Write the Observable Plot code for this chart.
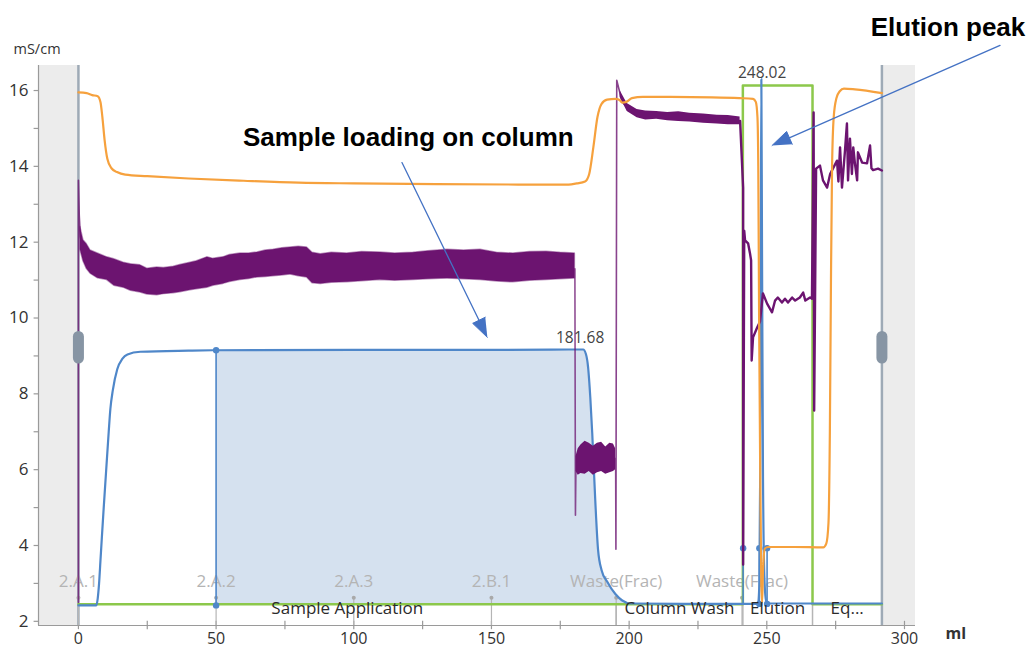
<!DOCTYPE html>
<html>
<head>
<meta charset="utf-8">
<script src="https://cdn.jsdelivr.net/npm/d3@7"></script>
<script src="https://cdn.jsdelivr.net/npm/@observablehq/plot@0.6"></script>
<style>
  html, body { margin: 0; padding: 0; background: #fff; }
  #chart svg { display: block; }
</style>
</head>
<body>
<div id="chart"></div>
<script>
// ---------- data ----------
const xDomain = [-14.5, 304];          // ml
const yDomain = [1.89, 16.66];         // mS/cm
const xTicks = [0, 50, 100, 150, 200, 250, 300];
const xMinorTicks = [25, 75, 125, 175, 225, 275];
const yTicks = [2, 4, 6, 8, 10, 12, 14, 16];
const yMinorTicks = [3, 5, 7, 9, 11, 13, 15];

const runEdges = [0, 291.8];           // grey run-limit lines
const shadedPanels = [[-14.5, 0], [291.8, 304]];

// orange curve [ml, value]
const orange = [[0,15.95],[3,15.93],[5,15.88],[7,15.85],[8,15.7],[8.7,15.3],[9.5,14.7],[10.5,14.2],[12,13.95],[14,13.85],[17,13.78],[25,13.74],[40,13.68],[60,13.62],[80,13.57],[100,13.55],[130,13.53],[160,13.52],[178,13.52],[181,13.55],[184,13.6],[185.5,13.8],[187,14.5],[188.5,15.3],[190,15.65],[192,15.76],[195,15.78],[196.5,15.75],[197.5,15.68],[199,15.7],[201,15.8],[205,15.83],[215,15.83],[230,15.82],[240,15.8],[245,15.78],[246,15.7],[246.6,15.3],[246.9,14],[247.2,10],[247.6,6],[248,3],[248.3,2.5],[248.6,3.3],[249.3,3.92],[250.5,3.96],[260,3.96],[270.5,3.95],[271.6,4.05],[272.4,4.6],[272.9,7],[273.3,11],[273.7,14],[274.3,15.3],[275.3,15.8],[276.5,15.98],[278,16.05],[282,16.03],[291.8,15.93]];

// blue curve [ml, value]
const blue = [[0,2.42],[6.5,2.42],[7,2.6],[7.5,3.0],[8,3.6],[8.5,4.2],[9.1,4.9],[10,5.9],[11,7.0],[11.6,7.6],[12.5,8.1],[14.1,8.65],[16,8.93],[17.8,9.04],[22.5,9.11],[40,9.14],[50,9.15],[100,9.16],[150,9.16],[183.3,9.17],[184.3,9.05],[185.1,8.7],[185.9,7.9],[186.6,6.96],[187.7,5.19],[188.7,3.9],[190,3.35],[192,3.05],[195,2.72],[197.5,2.55],[200.4,2.47],[220,2.46],[246.8,2.46],[247.3,3.0],[247.6,6],[247.85,12],[248.02,16.3],[248.25,12],[248.6,6],[249.1,3.2],[249.6,2.6],[250.1,2.47],[291.8,2.47]];
const integrationRange = [50, 200.4];
const integrationBase = 2.44;
const blueDrops = [[50,2.42,9.15],[241.4,2.46,3.93],[247.3,2.46,3.93],[250.1,2.46,3.93]];
const blueMarkers = [[50,9.15],[50,2.42],[241.4,3.93],[247.3,3.93],[250.1,3.93],[247.3,2.46],[250.1,2.46]];

// green block [ml, value]
const green = [[0,2.45],[241.3,2.45],[241.3,16.13],[266.6,16.13],[266.6,2.45],[291.8,2.45]];

// purple trace pieces [ml, value] and noisy envelopes [ml, low, high]
const purpleStart = [[0,2.5],[0,13.63],[0.3,12.7],[0.7,12.15],[1.5,11.8]];
const purpleBand1 = [[0.7,11.8,12.4],[1.8,11.5,12.05],[3,11.3,11.95],[4.4,11.17,11.78],[7,11.05,11.7],[10.4,11.0,11.6],[13,10.85,11.55],[16.4,10.8,11.46],[19,10.72,11.42],[22.5,10.67,11.39],[25,10.62,11.3],[28.6,10.6,11.33],[31,10.63,11.32],[34.6,10.65,11.35],[37,10.68,11.4],[40.7,10.73,11.46],[43,10.76,11.5],[46.8,10.8,11.6],[49,10.85,11.56],[52.6,10.9,11.6],[55,10.95,11.66],[58.8,11.0,11.7],[62,11.03,11.7],[65,11.07,11.73],[68,11.08,11.78],[70.8,11.1,11.8],[74,11.12,11.84],[77,11.15,11.86],[80,11.1,11.88],[83,11.07,11.86],[85,10.92,11.72],[88,10.9,11.68],[92,10.93,11.72],[97.6,10.94,11.7],[103,10.97,11.74],[109.6,11.0,11.73],[115,10.98,11.7],[121.6,11.0,11.72],[127,11.02,11.76],[134,11.04,11.8],[140,11.02,11.78],[146,11.0,11.8],[152,10.96,11.72],[158,10.94,11.7],[164,10.98,11.74],[170,11.0,11.75],[175,11.02,11.72],[180.3,11.04,11.7]];
const purpleDrop = [[180.3,11.3],[180.5,4.8],[180.7,6.2]];
const purpleBand2 = [[180.7,5.95,6.35],[181.5,5.85,6.55],[182.5,5.9,6.65],[184,5.88,6.75],[185.5,5.95,6.7],[187,5.85,6.62],[188.5,5.92,6.7],[190,5.95,6.72],[191.5,5.88,6.6],[193,5.92,6.7],[194.3,5.95,6.68],[195.1,6.0,6.55]];
const purpleWash = [[195.1,6.3],[195.2,3.9],[195.5,16.27],[196.7,15.92],[197.5,15.7],[199.3,15.55],[202.9,15.39],[210.2,15.34],[222,15.28],[230,15.24],[240.3,15.2]];
const purpleWashBand = [[196.7,15.82,16.0],[199.3,15.45,15.66],[202.9,15.28,15.5],[206,15.22,15.46],[210,15.24,15.45],[214,15.2,15.42],[218,15.18,15.44],[222,15.17,15.4],[227,15.14,15.38],[232,15.12,15.35],[236,15.1,15.34],[240.3,15.1,15.3]];
const purpleElution = [[240.3,15.2],[241.4,13.44],[241.4,3.5],[241.8,12.3],[242.1,12.05],[243.2,11.97],[243.9,11.7],[244.3,11.52],[244.5,8.88],[245,9.49],[246.5,9.75],[247.5,9.9],[248.6,10.65],[250.1,10.38],[251.9,10.15],[253,10.46],[254,10.54],[255.5,10.41],[256.6,10.51],[257.7,10.41],[259.2,10.54],[260.3,10.46],[262,10.54],[263.2,10.67],[264,10.46],[265.7,10.54],[266.4,10.51],[267.0,15.42],[267.2,7.56],[267.9,13.94],[269.3,14.02],[270.4,13.63],[271.9,13.44],[273,13.8],[274,13.94],[275.5,14.15],[276,13.6],[276.6,14.5],[277.3,13.44],[278.4,14.42],[279.1,15.13],[279.5,13.63],[280.2,14.73],[280.9,13.8],[281.4,14.5],[282,14.08],[282.8,13.63],[283.1,14.37],[284.6,14.1],[286.4,14.08],[287.5,14.55],[288,13.95],[288.6,13.9],[290.4,13.94],[291.8,13.89]];

// fractions and phases
const fractionNames = ["2.A.1", "2.A.2", "2.A.3", "2.B.1", "Waste(Frac)", "Waste(Frac)"];
const fractionStarts = [0, 50, 100, 150, 195.3, 241];
const phaseNames = ["Sample Application", "Column Wash", "Elution", "Eq..."];
const phaseBounds = [0, 195.3, 241.3, 266.6, 291.8];

// peak labels [ml, value, text]
const peakLabels = [[182.2, 9.46, "181.68"], [248.3, 16.47, "248.02"]];

// annotations: text and arrows [fromMl, fromValue, toMl, toValue]
const annotationTexts = [[119.8, 14.76, "Sample loading on column"], [315.8, 17.66, "Elution peak"]];
const annotationArrows = [[117.5, 14.1, 148.5, 9.49], [334.7, 17.19, 251.9, 14.55]];

// ---------- layout ----------
const W = 1032, H = 651;
const M = {left: 38, right: 117, top: 65, bottom: 26};
const FONT = "'Open Sans', 'Noto Sans', sans-serif";

const xs = Plot.scale({x: {domain: xDomain, range: [M.left, W - M.right]}});
const ys = Plot.scale({y: {domain: yDomain, range: [H - M.bottom, M.top]}});

// arrowheads computed through the scales
const headLen = 19, headHalf = 7;
const arrowLines = [], arrowHeads = [];
annotationArrows.forEach(([x1, y1, x2, y2], i) => {
  const px1 = xs.apply(x1), py1 = ys.apply(y1), px2 = xs.apply(x2), py2 = ys.apply(y2);
  const dx = px2 - px1, dy = py2 - py1, len = Math.hypot(dx, dy);
  const ux = dx / len, uy = dy / len;
  const bx = px2 - ux * headLen, by = py2 - uy * headLen;
  arrowLines.push({id: i, x: x1, y: y1}, {id: i, x: xs.invert(bx + ux * 2), y: ys.invert(by + uy * 2)});
  arrowHeads.push(
    {id: i, x: x2, y: y2},
    {id: i, x: xs.invert(bx - uy * headHalf), y: ys.invert(by + ux * headHalf)},
    {id: i, x: xs.invert(bx + uy * headHalf), y: ys.invert(by - ux * headHalf)}
  );
});

const shadedArea = blue.filter(d => d[0] >= integrationRange[0] && d[0] <= integrationRange[1]);
const fractions = fractionNames.map((name, i) => ({name, x: fractionStarts[i]}));
const phases = phaseNames.map((name, i) => ({name, x: (phaseBounds[i] + phaseBounds[i + 1]) / 2}));
const phaseLines = phaseBounds.slice(1, -1);

const ORANGE = "#f6a13d", BLUE = "#4f87c9", GREEN = "#8cc84b", PURPLE = "#6c1470", GREYLINE = "#9eaab6";

const chart = Plot.plot({
  width: W, height: H,
  marginLeft: M.left, marginRight: M.right, marginTop: M.top, marginBottom: M.bottom,
  x: {domain: xDomain, label: null},
  y: {domain: yDomain, label: null},
  style: {fontFamily: FONT, background: "#fff", overflow: "visible"},
  marks: [
    // shaded side panels
    Plot.rect(shadedPanels, {x1: d => d[0], x2: d => d[1], y1: yDomain[0], y2: yDomain[1], fill: "#ececec"}),
    // axes lines
    Plot.ruleY([yDomain[0]], {x1: xDomain[0], x2: xDomain[1], stroke: "#9a9a9a", strokeWidth: 1.2}),
    Plot.ruleX([xDomain[0]], {y1: yDomain[0], y2: yDomain[1], stroke: "#9a9a9a", strokeWidth: 1.2}),
    Plot.ruleX([...xTicks, ...xMinorTicks], {y1: yDomain[0] - 0.11, y2: yDomain[0] + 0.11, stroke: "#9a9a9a", strokeWidth: 1.2}),
    Plot.ruleY([...yTicks, ...yMinorTicks], {x1: xDomain[0] - 1.6, x2: xDomain[0] + 0.3, stroke: "#9a9a9a", strokeWidth: 1.2}),
    Plot.axisX(xTicks, {tickSize: 0, tickPadding: 7, fontSize: 16, fill: "#333", label: null}),
    Plot.axisY(yTicks, {tickSize: 0, tickPadding: 10, fontSize: 17, fill: "#333", label: null}),
    Plot.text(["mS/cm"], {frameAnchor: "top-left", dx: -25, dy: -22, textAnchor: "start", fontSize: 14.5, fill: "#333"}),
    Plot.text(["ml"], {frameAnchor: "bottom-right", dx: 30, dy: 13, textAnchor: "start", fontSize: 16, fontWeight: "bold", fill: "#333"}),
    // integrated area
    Plot.areaY(shadedArea, {x: d => d[0], y1: integrationBase, y2: d => d[1], fill: "#d5e1ef"}),
    // run-limit lines
    Plot.ruleX(runEdges, {y1: yDomain[0], y2: yDomain[1], stroke: GREYLINE, strokeWidth: 2.5}),
    // fraction marks
    Plot.ruleX(fractionStarts, {y1: yDomain[0], y2: 2.62, stroke: "#b5b5b5", strokeWidth: 1.2}),
    Plot.dot(fractionStarts, {x: d => d, y: 2.62, r: 2, fill: "#a9a9a9"}),
    Plot.ruleX(phaseLines, {y1: yDomain[0], y2: 2.45, stroke: "#b5b5b5", strokeWidth: 1.5}),
    Plot.text(fractions, {x: "x", y: 3.06, text: "name", fontSize: 17, fill: "#b4b4b4"}),
    // green
    Plot.line(green, {x: d => d[0], y: d => d[1], stroke: GREEN, strokeWidth: 2.5}),
    // blue
    Plot.ruleX(blueDrops, {x: d => d[0], y1: d => d[1], y2: d => d[2], stroke: BLUE, strokeWidth: 1.6}),
    Plot.line(blue, {x: d => d[0], y: d => d[1], stroke: BLUE, strokeWidth: 2.2, curve: "monotone-x"}),
    Plot.dot(blueMarkers, {x: d => d[0], y: d => d[1], r: 3.2, fill: BLUE}),
    // purple
    Plot.line(purpleStart, {x: d => d[0], y: d => d[1], stroke: PURPLE, strokeWidth: 1.6, strokeOpacity: 0.8}),
    Plot.areaY(purpleBand1, {x: d => d[0], y1: d => d[1], y2: d => d[2], fill: PURPLE, stroke: PURPLE, strokeOpacity: 0.45, strokeWidth: 1.5}),
    Plot.line(purpleDrop, {x: d => d[0], y: d => d[1], stroke: PURPLE, strokeWidth: 1.6, strokeOpacity: 0.75}),
    Plot.areaY(purpleBand2, {x: d => d[0], y1: d => d[1], y2: d => d[2], fill: PURPLE}),
    Plot.line(purpleWash, {x: d => d[0], y: d => d[1], stroke: PURPLE, strokeWidth: 1.6, strokeOpacity: 0.8}),
    Plot.areaY(purpleWashBand, {x: d => d[0], y1: d => d[1], y2: d => d[2], fill: PURPLE}),
    Plot.line(purpleElution, {x: d => d[0], y: d => d[1], stroke: PURPLE, strokeWidth: 2.4}),
    // orange
    Plot.line(orange, {x: d => d[0], y: d => d[1], stroke: ORANGE, strokeWidth: 2.2, curve: "monotone-x"}),
    // handles on run-limit lines
    Plot.ruleX(runEdges, {y1: 8.93, y2: 9.5, stroke: "#8795a4", strokeWidth: 11, strokeLinecap: "round"}),
    // phase names
    Plot.text(phases, {x: "x", y: 2.34, text: "name", fontSize: 17, fill: "#2b2b2b"}),
    // peak labels
    Plot.text(peakLabels, {x: d => d[0], y: d => d[1], text: d => d[2], fontSize: 15.5, fill: "#444"}),
    // annotations
    Plot.line(arrowLines, {x: "x", y: "y", z: "id", stroke: "#4472c4", strokeWidth: 1.3}),
    Plot.line(arrowHeads, {x: "x", y: "y", z: "id", fill: "#4472c4", stroke: "#4472c4", strokeWidth: 1}),
    Plot.text(annotationTexts, {x: d => d[0], y: d => d[1], text: d => d[2], fontSize: 26, fontWeight: "bold", fontFamily: "'Liberation Sans', Arial, sans-serif", fill: "#000"})
  ]
});
document.getElementById("chart").appendChild(chart);
</script>
</body>
</html>
